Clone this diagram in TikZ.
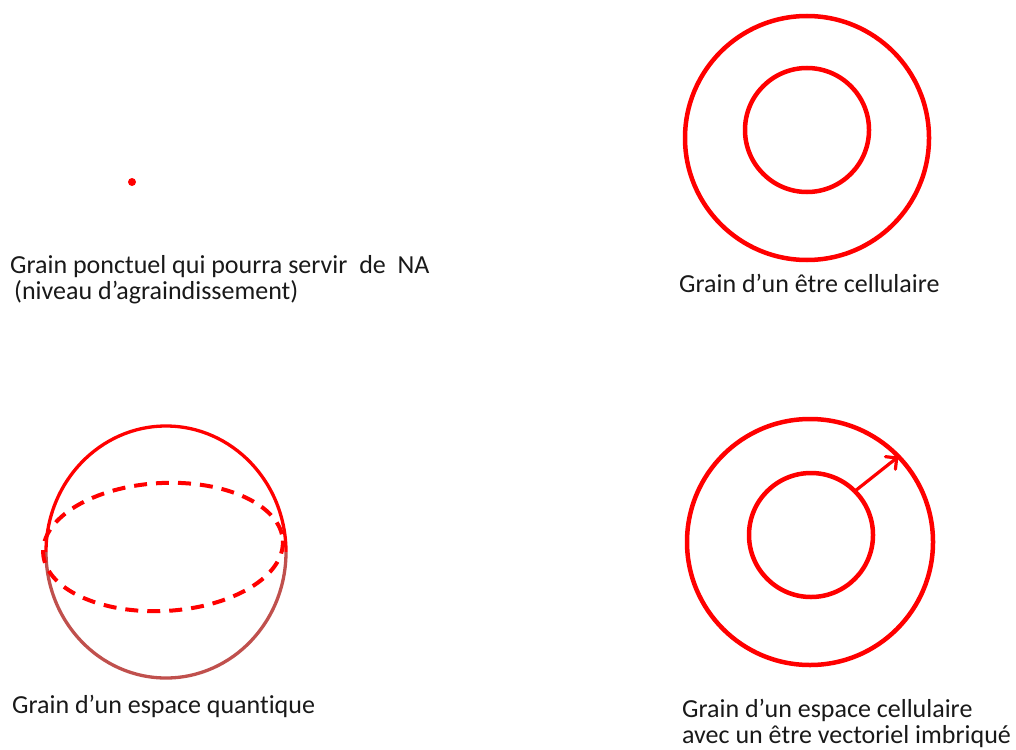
\documentclass[tikz,border=0pt]{standalone}
\usepackage{fontspec}
\setmainfont{Carlito}[Ligatures=NoCommon]
\usetikzlibrary{arrows.meta}
\definecolor{pred}{HTML}{FF0000}
\definecolor{pdark}{HTML}{C0504D}
\begin{document}
\begin{tikzpicture}[x=1pt,y=-1pt,
  ring/.style={circle,draw=pred,line width=4.5pt,inner sep=0pt,outer sep=0pt},
  lbl/.style={anchor=base west,inner sep=0pt,font=\fontsize{26}{31}\selectfont,text=black!90},
  sph/.style={line width=3.3pt}]
\useasboundingbox (0,0) rectangle (1016,749);
% point grain
\node[circle,fill=pred,inner sep=0pt,minimum size=8pt] (dot) at (132,182) {};
\node[lbl] (t1a) at (10,273) {Grain ponctuel qui pourra servir\ \ de\ \ NA};
\node[lbl] (t1b) at (14,299) {(niveau d’agraindissement)};
% cellular being
\node[ring,minimum size=244pt] (o1) at (807,138) {};
\node[ring,minimum size=124pt] (i1) at (807,130) {};
\node[lbl] (t2) at (679,292) {Grain d’un être cellulaire};
% quantum space (sphere)
\draw[sph,draw=pred] (46,552) arc[start angle=180,end angle=360,x radius=120,y radius=126];
\draw[sph,draw=pdark] (286,552) arc[start angle=0,end angle=180,x radius=120,y radius=126];
\draw[pred,line width=4pt,dash pattern=on 13pt off 9pt,rotate around={3:(163,547)}] (163,547) ellipse[x radius=120,y radius=64];
\node[lbl] (t3) at (12,713) {Grain d’un espace quantique};
% cellular space with nested vector being
\node[ring,minimum size=246pt] (o2) at (810,542) {};
\node[ring,minimum size=124pt] (i2) at (811,535) {};
\draw[pred,line width=3.2pt,-{Straight Barb[length=8pt,width=16pt,line cap=round]}] (i2.45) -- (o2.44);
\node[lbl] (t4a) at (682,717) {Grain d’un espace cellulaire};
\node[lbl] (t4b) at (682,743) {avec un être vectoriel imbriqué};
\end{tikzpicture}
\end{document}
